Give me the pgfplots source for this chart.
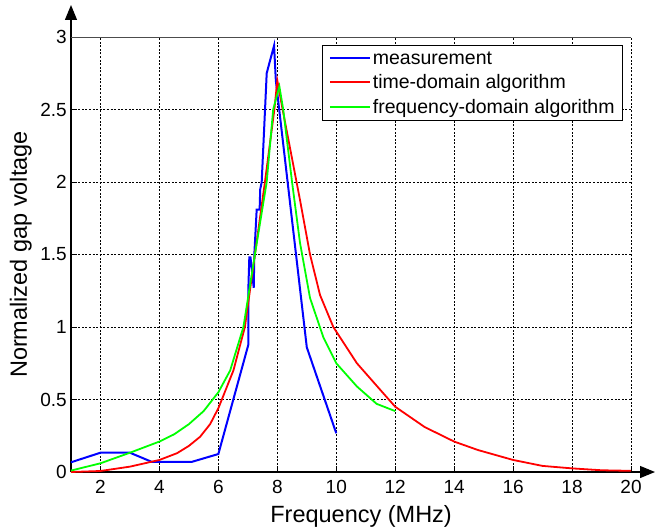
\documentclass[border=0pt]{standalone}
\usepackage{fontspec}
\setmainfont{Liberation Sans}
\usepackage{pgfplots}
\pgfplotsset{compat=1.18}
\usetikzlibrary{arrows.meta}
\definecolor{mblue}{RGB}{0,0,255}
\definecolor{mred}{RGB}{255,0,0}
\definecolor{mgreen}{RGB}{0,255,0}
\begin{document}
\begin{tikzpicture}
\begin{axis}[name=ax,
  scale only axis, width=560pt, height=435pt,
  xmin=1, xmax=20, ymin=0, ymax=3, enlargelimits=false,
  axis x line=bottom, axis y line=left,
  x axis line style={line width=1.2pt, -{Triangle[length=15pt,width=12pt]}, shorten >=-24pt},
  y axis line style={line width=1.2pt, -{Triangle[length=15pt,width=12pt]}, shorten >=-32pt},
  xtick={2,4,...,20}, ytick={0,0.5,1,1.5,2,2.5,3},
  yticklabels={0,0.5,1,1.5,2,2.5,3},
  tick align=inside, major tick length=4pt, tick style={black, line width=0.6pt},
  grid=major, grid style={black, line width=0.6pt, dash pattern=on 2pt off 1.6pt},
  /pgf/number format/assume math mode=true,
  ticklabel style={font=\fontsize{19}{22}\selectfont},
  xticklabel style={inner sep=0pt, anchor=north, yshift=-8pt},
  yticklabel style={inner sep=0pt, anchor=east, xshift=-4pt},
  xlabel={Frequency (MHz)}, ylabel={Normalized gap voltage},
  label style={font=\fontsize{23.5}{27}\selectfont},
  xlabel style={at={(axis description cs:0.518,-0.115)}, anchor=base, inner sep=0pt},
  ylabel style={at={(axis description cs:-0.0696,0.5)}, anchor=south, inner sep=0pt},
  legend style={at={(0.9857,0.9816)}, anchor=north east, draw=black, line width=0.8pt,
    font=\fontsize{19.5}{22}\selectfont, inner xsep=6pt, inner ysep=4pt, row sep=5pt},
  legend cell align=left,
  legend image code/.code={\draw[#1, line width=2pt] (0pt,0pt) -- (40pt,0pt);},
]
\addplot[draw=mblue, line width=2pt, no markers] coordinates {
(1,0.067)(2,0.133)(3,0.133)(3.74,0.07)(5.1,0.07)(6,0.124)(7.02,0.88)(7.02,1.28)(7.05,1.48)(7.09,1.48)(7.2,1.27)(7.22,1.5)(7.3,1.81)(7.4,1.81)(7.42,1.95)(7.47,2.0)(7.64,2.75)(7.73,2.82)(7.89,2.94)(7.95,2.70)(9.0,0.86)(10,0.267)
};
\addlegendentry{measurement}
\addplot[draw=mred, line width=1.8pt, no markers] coordinates {
(1,0.0)(2,0.007)(3,0.037)(4,0.083)(4.6,0.13)(5,0.18)(5.38,0.243)(5.72,0.33)(6,0.44)(6.51,0.70)(6.9,1.0)(7.24,1.5)(7.58,2.0)(7.9,2.5)(8.0,2.70)(8.18,2.5)(8.77,1.876)(9.11,1.5)(9.45,1.22)(9.9,1.0)(10.7,0.75)(11.5,0.565)(12,0.45)(13,0.31)(14,0.21)(14.8,0.152)(16,0.083)(17,0.042)(18,0.025)(19,0.012)(20,0.008)
};
\addlegendentry{time-domain algorithm}
\addplot[draw=mgreen, line width=1.8pt, no markers] coordinates {
(1,0.01)(2,0.06)(3,0.133)(4,0.21)(4.5,0.26)(5,0.33)(5.5,0.42)(6,0.55)(6.4,0.70)(6.85,1.0)(7.24,1.5)(7.64,2.0)(7.86,2.5)(8.07,2.66)(8.2,2.5)(8.5,2.0)(8.77,1.58)(9.11,1.2)(9.56,0.93)(10,0.75)(10.7,0.59)(11.37,0.47)(12,0.42)
};
\addlegendentry{frequency-domain algorithm}
\end{axis}
\draw[line width=0.8pt, black!70] (ax.north west) -- (ax.north east);
\pgfresetboundingbox
\path[use as bounding box] ([shift={(-71pt,-56pt)}]ax.south west) rectangle ([shift={(25pt,37pt)}]ax.north east);
\end{tikzpicture}
\end{document}
